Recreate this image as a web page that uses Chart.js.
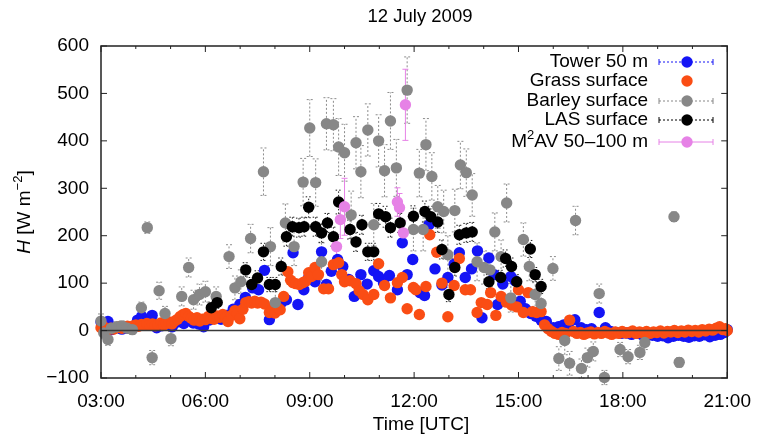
<!DOCTYPE html>
<html>
<head>
<meta charset="utf-8">
<script src="https://cdn.jsdelivr.net/npm/chart.js@4/dist/chart.umd.min.js"></script>
<style>html,body{margin:0;padding:0;background:#fff}canvas{display:block}</style>
</head>
<body>
<canvas id="c" width="763" height="439"></canvas>
<script>
// [hour UTC, H W/m2] (and error for the ones with bars)
const tower = [
  [3.0,18],[3.1,8],[3.2,19],[3.3,2],[3.45,6],[3.6,3],[3.75,5],[3.9,4],[4.05,22],[4.17,30],[4.3,14],[4.47,32],[4.6,6],[4.75,10],[4.9,14],[5.05,8],[5.2,18],[5.38,15],[5.5,22],[5.65,16],[5.8,14],[5.95,8],
  [6.1,22],[6.25,28],[6.45,24],[6.6,32],[6.8,45],[6.99,55],[7.15,70],[7.36,90],[7.53,86],[7.7,127],[7.84,23],[8.0,42],[8.18,58],[8.33,65],[8.52,164],[8.66,55],[8.83,86],[8.97,112],[9.15,103],[9.34,166],[9.48,97],[9.62,125],[9.8,150],[9.95,135],[10.12,108],[10.28,72],[10.47,118],[10.65,98],[10.84,126],[10.98,114],[11.12,101],[11.29,116],[11.52,86],[11.66,185],[11.8,118],[11.96,150],[12.17,80],[12.3,74],[12.43,223],[12.6,130],[12.8,96],[12.97,112],[13.15,140],[13.3,164],[13.47,112],[13.65,130],[13.82,168],[13.95,27],[14.15,153],[14.3,118],[14.4,55],[14.55,98],[14.78,114],[14.9,105],[15.05,62],[15.2,46],[15.35,36],[15.5,30],[15.65,22],[15.8,19],[16.0,6],[16.15,8],[16.3,12],[16.45,5],[16.62,23],[16.8,6],[16.95,2],[17.1,4],[17.32,38],[17.5,6],[17.65,-2],[17.8,-4],[17.95,-6],[18.1,-5],[18.25,-8],[18.4,-6],[18.55,-9],[18.7,-8],[18.85,-10],[19.0,-12],[19.15,-11],[19.3,-15],[19.45,-12],[19.6,-10],[19.75,-12],[19.9,-14],[20.05,-11],[20.2,-12],[20.35,-9],[20.5,-13],[20.65,-10],[20.8,-8],[20.92,-4],[21.0,2]
];

const grass = [
  [3.0,6],[3.05,10],[3.12,4],[3.2,2],[3.28,5],[3.36,3],[3.44,6],[3.52,8],[3.6,5],[3.68,7],[3.76,9],[3.84,6],[3.92,10],[4.0,12],[4.08,9],[4.16,13],[4.24,11],[4.32,15],[4.4,12],[4.48,14],[4.56,10],[4.64,13],[4.72,16],[4.8,12],[4.88,15],[4.96,18],[5.04,14],[5.12,20],[5.2,24],[5.28,30],[5.36,34],[5.44,36],[5.52,30],[5.6,26],[5.68,22],[5.76,27],[5.84,20],[5.92,24],
  [6.0,23],[6.09,30],[6.17,26],[6.25,24],[6.33,31],[6.42,28],[6.5,34],[6.58,27],[6.65,19],[6.75,32],[6.85,42],[6.92,36],[6.99,25],[7.08,45],[7.16,59],[7.25,61],[7.33,58],[7.42,62],[7.5,58],[7.6,60],[7.7,56],[7.84,38],[7.92,44],[8.0,37],[8.08,48],[8.15,44],[8.25,72],[8.37,124],[8.45,106],[8.52,101],[8.6,99],[8.7,97],[8.8,101],[8.88,104],[8.97,122],[9.05,114],[9.15,133],[9.25,118],[9.4,88],[9.54,88],[9.68,139],[9.83,143],[9.92,118],[10.0,103],[10.16,105],[10.33,99],[10.42,84],[10.53,76],[10.67,65],[10.84,76],[10.98,141],[11.15,95],[11.32,69],[11.52,101],[11.66,112],[11.8,46],[11.98,91],[12.05,86],[12.15,34],[12.34,93],[12.45,202],[12.65,165],[12.8,100],[12.97,29],[13.15,95],[13.3,152],[13.47,86],[13.62,86],[13.81,38],[13.93,59],[14.1,55],[14.2,80],[14.35,32],[14.5,72],[14.65,60],[14.8,54],[14.95,50],[15.0,86],[15.14,38],[15.28,80],[15.4,40],[15.52,38],[15.65,40],[15.75,12],[15.85,4],[15.95,-2],
  [16.05,-6],[16.15,-8],[16.25,-4],[16.35,-6],[16.47,22],[16.58,-2],[16.68,-6],[16.78,-4],[16.88,-8],[16.98,-5],[17.08,-3],[17.18,-7],[17.28,-4],[17.38,-6],[17.48,-2],[17.58,-5],[17.68,-8],[17.78,-3],[17.88,-6],[17.98,-2],[18.08,-5],[18.18,-4],[18.28,-1],[18.38,-6],[18.48,-3],[18.58,-5],[18.68,-2],[18.78,-6],[18.88,-3],[18.98,-4],[19.08,-1],[19.18,-5],[19.28,-2],[19.38,-3],[19.48,0],[19.58,-4],[19.68,-1],[19.78,-3],[19.88,1],[19.98,-2],[20.08,0],[20.18,-3],[20.28,2],[20.38,-1],[20.48,3],[20.58,1],[20.68,5],[20.78,8],[20.88,2],[20.95,4],[21.0,0]
];

const barley = [
  [3.0,20,15],[3.08,-5,12],[3.2,-19,12],[3.3,5,10],[3.45,8,10],[3.6,10,10],[3.75,5,10],[3.9,2,10],[4.16,48,12],[4.33,217,12],[4.47,-57,15],[4.67,84,18],[4.84,36,15],[5.01,-17,15],[5.32,72,20],[5.52,133,20],[5.66,65,20],[5.83,76,22],[6.0,82,22],[6.31,72,20],[6.68,156,25],[6.85,90,25],[7.02,103,25],[7.3,194,30],[7.67,335,50],[7.87,177,40],[8.01,59,30],[8.3,227,40],[8.55,177,40],[8.81,313,50],
  [9.0,427,60],[9.17,312,50],[9.34,145,40],[9.48,436,55],[9.68,434,55],[9.83,387,60],[10.0,375,60],[10.19,244,50],[10.33,396,55],[10.47,335,55],[10.67,423,55],[10.84,223,45],[10.98,400,55],[11.15,337,55],[11.32,442,60],[11.49,343,60],[11.8,507,70],[11.98,213,45],[12.15,332,50],[12.26,213,45],[12.34,392,55],[12.51,325,50],[12.68,261,45],[12.85,251,45],[12.97,160,40],[13.17,253,45],[13.33,349,50],[13.5,333,50],[13.67,286,45],[13.81,145,40],[14.01,133,35],[14.18,128,35],[14.32,208,40],[14.5,156,35],[14.66,269,40],[14.78,69,30],
  [15.14,192,35],[15.31,135,30],[15.48,76,25],[15.65,57,25],[15.99,131,25],[16.16,-59,25],[16.33,-21,30],[16.47,-69,25],[16.64,232,30],[16.81,-80,20],[16.98,-57,20],[17.15,-44,20],[17.32,78,20],[17.47,-99,15],[17.92,-40,15],[18.15,-55,15],[18.49,-46,15],[18.63,-25,15],[19.47,240,10],[19.62,-67,10]
];

const las = [
  [6.17,48,12],[6.34,59,12],[7.16,128,15],[7.33,97,15],[7.5,111,15],[7.67,166,18],[7.84,97,15],[8.01,97,15],[8.18,135,18],[8.33,198,20],[8.5,219,20],[8.69,217,20],[8.84,219,20],[8.97,260,22],[9.17,219,20],[9.34,206,20],[9.51,227,20],[9.68,198,20],[9.83,271,25],[10.16,213,20],[10.33,187,20],[10.5,223,20],[10.67,166,18],[10.84,166,18],[10.98,246,22],[11.18,240,22],[11.32,217,20],[11.6,227,20],[11.98,241,22],
  [12.31,251,22],[12.48,240,22],[12.68,229,22],[12.8,171,20],[13.0,76,15],[13.17,133,18],[13.3,202,20],[13.5,206,20],[13.67,208,20],[14.15,103,15],[14.49,112,15],[14.63,152,18],[14.8,135,18],[14.95,103,15],[15.34,172,18],[15.48,118,15],[15.65,93,15]
];

const m2av = [
  [9.77,177,25],[9.88,234,40],[10.0,261,60],[11.52,271,30],[11.58,259,30],[11.69,206,25],[11.75,476,75]
];

const xTicks = [3, 6, 9, 12, 15, 18, 21];
const yTicks = [-100, 0, 100, 200, 300, 400, 500, 600];

const FONT = '"Liberation Sans", Arial, Helvetica, sans-serif';
const C_BLUE = '#1414f5', C_ORANGE = '#fa4d14', C_GRAY = '#878787', C_BLACK = '#000000', C_VIOLET = '#e682e6';
const R = 5.7;

function pts(arr) { return arr.map(d => ({ x: d[0], y: d[1] })); }

function ds(label, arr, color, order, errStyle) {
  return {
    label, data: pts(arr), order,
    errs: arr.map(d => d[2] || 0), errStyle,
    backgroundColor: color, borderColor: color,
    pointRadius: R, pointBorderWidth: 0, pointHoverRadius: R,
    showLine: false, clip: false
  };
}

const decor = {
  id: 'decor',
  beforeDatasetsDraw(chart) {
    // error bars, behind the markers
    const { ctx, scales: { x, y } } = chart;
    chart.data.datasets.forEach(d => {
      if (!d.errStyle) return;
      ctx.save();
      ctx.strokeStyle = d.errStyle.color;
      ctx.lineWidth = 1;
      ctx.setLineDash(d.errStyle.dash);
      d.data.forEach((p, i) => {
        const e = d.errs[i];
        if (!e) return;
        const px = x.getPixelForValue(p.x);
        const y1 = y.getPixelForValue(p.y - e), y2 = y.getPixelForValue(p.y + e);
        ctx.beginPath();
        ctx.moveTo(px, y1); ctx.lineTo(px, y2);
        ctx.moveTo(px - 3, y1); ctx.lineTo(px + 3, y1);
        ctx.moveTo(px - 3, y2); ctx.lineTo(px + 3, y2);
        ctx.stroke();
      });
      ctx.restore();
    });
  },
  afterDraw(chart) {
    const { ctx, chartArea: a, scales: { x, y } } = chart;
    ctx.save();
    // zero line
    ctx.strokeStyle = '#3a3a3a';
    ctx.lineWidth = 1.5;
    const y0 = y.getPixelForValue(0);
    ctx.beginPath(); ctx.moveTo(a.left, y0); ctx.lineTo(a.right, y0); ctx.stroke();
    // frame
    ctx.strokeStyle = '#222';
    ctx.strokeRect(a.left, a.top, a.right - a.left, a.bottom - a.top);
    // ticks
    ctx.lineWidth = 1;
    ctx.beginPath();
    for (let h = 3; h <= 21; h++) {
      const px = x.getPixelForValue(h), len = h % 3 === 0 ? 6 : 3;
      ctx.moveTo(px, a.bottom); ctx.lineTo(px, a.bottom - len);
      ctx.moveTo(px, a.top); ctx.lineTo(px, a.top + len);
    }
    yTicks.forEach(v => {
      const py = y.getPixelForValue(v);
      ctx.moveTo(a.left, py); ctx.lineTo(a.left + 6, py);
      ctx.moveTo(a.right, py); ctx.lineTo(a.right - 6, py);
    });
    ctx.stroke();

    ctx.fillStyle = '#000';
    ctx.textBaseline = 'middle';
    // title
    ctx.font = '18.5px ' + FONT;
    ctx.textAlign = 'center';
    ctx.fillText('12 July 2009', 420, 17);
    // x title
    ctx.font = '19px ' + FONT;
    ctx.fillText('Time [UTC]', 421, 425);

    // y title, rotated
    ctx.save();
    ctx.translate(25, 212);
    ctx.rotate(-Math.PI / 2);
    ctx.textAlign = 'left';
    const parts = [
      ['H', 'italic 19px ' + FONT, 0],
      [' [W m', '19px ' + FONT, 0],
      ['\u22122', '13px ' + FONT, -7],
      [']', '19px ' + FONT, 0]
    ];
    let tw = 0;
    parts.forEach(p => { ctx.font = p[1]; tw += ctx.measureText(p[0]).width; });
    let cx = -tw / 2;
    parts.forEach(p => { ctx.font = p[1]; ctx.fillText(p[0], cx, p[2]); cx += ctx.measureText(p[0]).width; });
    ctx.restore();

    // legend
    const rows = [
      { text: 'Tower 50 m', color: C_BLUE, dash: [2, 2], line: true },
      { text: 'Grass surface', color: C_ORANGE, line: false },
      { text: 'Barley surface', color: C_GRAY, dash: [2, 2], line: true },
      { text: 'LAS surface', color: C_BLACK, dash: [2, 2], line: true },
      { text: 'M2AV 50\u2013100 m', color: C_VIOLET, dash: [], line: true, sup: true }
    ];
    const rowY = [62, 81, 101, 120, 142];
    const tx = 648, l1 = 659, l2 = 713, mx = 687;
    rows.forEach((r, i) => {
      const ry = rowY[i];
      ctx.textAlign = 'right';
      ctx.fillStyle = '#000';
      if (r.sup) {
        ctx.font = '19px ' + FONT;
        const rest = 'AV 50\u2013100 m';
        ctx.fillText(rest, tx, ry);
        let w = ctx.measureText(rest).width;
        ctx.font = '13px ' + FONT;
        ctx.fillText('2', tx - w, ry - 7);
        w += ctx.measureText('2').width;
        ctx.font = '19px ' + FONT;
        ctx.fillText('M', tx - w, ry);
      } else {
        ctx.font = '19px ' + FONT;
        ctx.fillText(r.text, tx, ry);
      }
      if (r.line) {
        ctx.strokeStyle = r.color;
        ctx.lineWidth = 1;
        ctx.setLineDash(r.dash);
        ctx.beginPath();
        ctx.moveTo(l1, ry); ctx.lineTo(l2, ry);
        ctx.stroke();
        ctx.setLineDash([]);
        ctx.beginPath();
        ctx.moveTo(l1, ry - 3); ctx.lineTo(l1, ry + 3);
        ctx.moveTo(l2, ry - 3); ctx.lineTo(l2, ry + 3);
        ctx.stroke();
      }
      ctx.fillStyle = r.color;
      ctx.beginPath();
      ctx.arc(mx, ry, R, 0, Math.PI * 2);
      ctx.fill();
    });
    ctx.restore();
  }
};

new Chart(document.getElementById('c'), {
  type: 'scatter',
  data: {
    datasets: [
      ds('Tower 50 m', tower, C_BLUE, 5, null),
      ds('Grass surface', grass, C_ORANGE, 4, null),
      ds('Barley surface', barley, C_GRAY, 3, { color: '#8c8c8c', dash: [2, 2] }),
      ds('LAS surface', las, C_BLACK, 2, { color: '#222', dash: [1.5, 2] }),
      ds('M2AV 50-100 m', m2av, C_VIOLET, 1, { color: C_VIOLET, dash: [] })
    ]
  },
  options: {
    responsive: false,
    devicePixelRatio: 1,
    animation: false,
    layout: { padding: { top: 46, right: 26, left: 0, bottom: 0 } },
    plugins: { legend: { display: false }, tooltip: { enabled: false }, title: { display: false } },
    scales: {
      x: {
        type: 'linear', min: 3, max: 21,
        afterBuildTicks: s => { s.ticks = xTicks.map(v => ({ value: v })); },
        afterFit: s => { s.height = 61; },
        grid: { display: false, drawTicks: false },
        border: { display: false },
        ticks: {
          padding: 12, color: '#000', font: { family: FONT, size: 19 }, maxRotation: 0,
          callback: v => (v < 10 ? '0' : '') + v + ':00'
        }
      },
      y: {
        type: 'linear', min: -100, max: 600,
        afterBuildTicks: s => { s.ticks = yTicks.map(v => ({ value: v })); },
        afterFit: s => { s.width = 101; },
        grid: { display: false, drawTicks: false },
        border: { display: false },
        ticks: {
          padding: 12, color: '#000', font: { family: FONT, size: 19 },
          callback: v => v < 0 ? '\u2212' + Math.abs(v) : String(v)
        }
      }
    }
  },
  plugins: [decor]
});
</script>
</body>
</html>
